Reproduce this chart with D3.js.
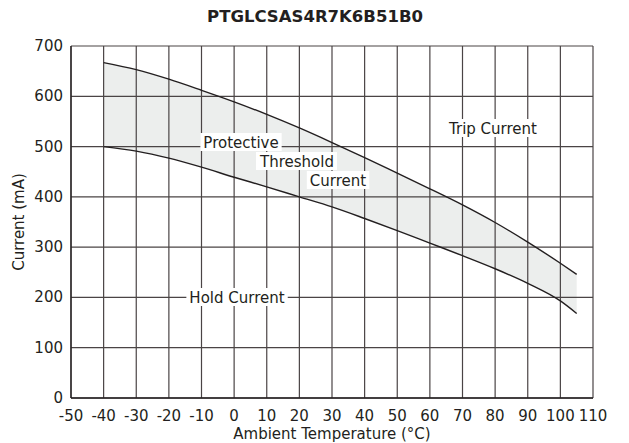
<!DOCTYPE html>
<html><head><meta charset="utf-8">
<script src="https://cdn.jsdelivr.net/npm/d3@7"></script>
<style>body{margin:0;background:#fff;}text{font-family:"DejaVu Sans",sans-serif;fill:#231f20;}</style>
</head><body>
<svg id="c" width="629" height="443"></svg>
<script>
const title = "PTGLCSAS4R7K6B51B0";
const xTicks = [-50,-40,-30,-20,-10,0,10,20,30,40,50,60,70,80,90,100,110];
const yTicks = [0,100,200,300,400,500,600,700];
const temps = [-40,-30,-20,-10,0,10,20,30,40,50,60,70,80,90,100,105];
const tripCurrent = [667,653,634,612,589,564,537,508,478,447,416,384,349,310,268,246];
const holdCurrent = [500,491,477,459,439,420,400,380,357,333,308,283,257,228,193,168];

const svg = d3.select("#c");
const L=71,R=593,T=46,B=398;
const x = d3.scaleLinear().domain([-50,110]).range([L,R]);
const y = d3.scaleLinear().domain([0,700]).range([B,T]);
const data = temps.map((t,i)=>({t,trip:tripCurrent[i],hold:holdCurrent[i]}));

svg.append("text").attr("x",315).attr("y",22).attr("text-anchor","middle")
  .style("font-weight","bold").style("font-size","16.5px").text(title);

// band
svg.append("path").datum(data).attr("fill","#eceeed")
  .attr("d",d3.area().x(d=>x(d.t)).y0(d=>y(d.hold)).y1(d=>y(d.trip)).curve(d3.curveMonotoneX));

// grid
const g = svg.append("g");
g.selectAll("line.v").data(xTicks).join("line").attr("x1",d=>x(d)).attr("x2",d=>x(d))
  .attr("y1",T).attr("y2",B).attr("stroke","#4a4445").attr("stroke-width",1.2);
g.selectAll("line.h").data(yTicks).join("line").attr("y1",d=>y(d)).attr("y2",d=>y(d))
  .attr("x1",L).attr("x2",R).attr("stroke","#4a4445").attr("stroke-width",1.2);
svg.append("line").attr("x1",L).attr("x2",L).attr("y1",T).attr("y2",B).attr("stroke","#231f20").attr("stroke-width",1.3);
svg.append("line").attr("x1",L).attr("x2",R).attr("y1",B).attr("y2",B).attr("stroke","#231f20").attr("stroke-width",1.3);

// curves
const line = k=>d3.line().x(d=>x(d.t)).y(d=>y(d[k])).curve(d3.curveMonotoneX);
svg.append("path").datum(data).attr("fill","none").attr("stroke","#231f20").attr("stroke-width",1.4).attr("d",line("trip"));
svg.append("path").datum(data).attr("fill","none").attr("stroke","#231f20").attr("stroke-width",1.4).attr("d",line("hold"));

// ticks
svg.selectAll("text.xt").data(xTicks).join("text").attr("class","xt")
  .attr("x",d=>x(d)).attr("y",B+23).attr("text-anchor","middle").style("font-size","15px").text(d=>d);
svg.selectAll("text.yt").data(yTicks).join("text").attr("class","yt")
  .attr("x",L-8).attr("y",d=>y(d)+5).attr("text-anchor","end").style("font-size","15px").text(d=>d);

svg.append("text").attr("x",332).attr("y",439).attr("text-anchor","middle").style("font-size","15px").text("Ambient Temperature (°C)");
svg.append("text").attr("transform","translate(24,222) rotate(-90)").attr("text-anchor","middle").style("font-size","15px").text("Current (mA)");

// labels with white background
function lab(txt,cx,cy){
  const t = svg.append("text").attr("x",cx).attr("y",cy+5.5).attr("text-anchor","middle").style("font-size","15px").text(txt);
  const b = t.node().getBBox();
  svg.insert("rect","text.lbl-dummy").attr("x",b.x-3).attr("y",cy-9).attr("width",b.width+6).attr("height",18).attr("fill","#fff");
  t.raise();
}
lab("Protective",241,142);
lab("Threshold",297,161);
lab("Current",338,180);
lab("Trip Current",493,128);
lab("Hold Current",237,297);
</script>
</body></html>
